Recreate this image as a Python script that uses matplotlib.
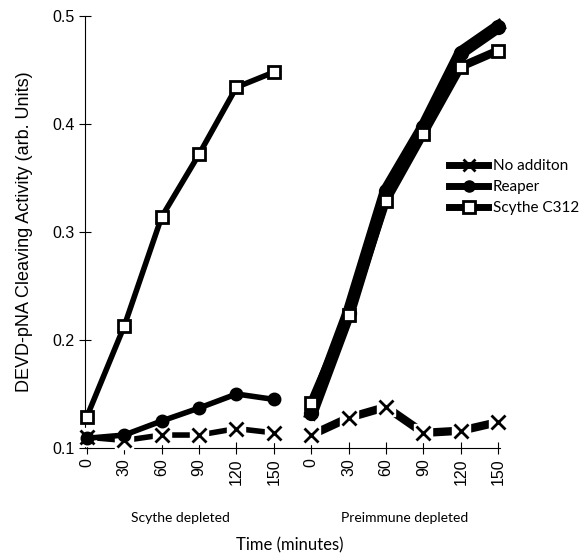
import matplotlib
matplotlib.use("Agg")
import matplotlib.pyplot as plt
import matplotlib.lines as mlines

times = [0, 30, 60, 90, 120, 150]
groups = ["Scythe depleted", "Preimmune depleted"]

# values, left group then right group
no_add_scythe = [0.110, 0.107, 0.112, 0.112, 0.118, 0.114]
no_add_preimm = [0.112, 0.128, 0.138, 0.114, 0.116, 0.124]
reaper_scythe = [0.109, 0.112, 0.125, 0.137, 0.150, 0.145]
reaper_preimm = [0.132, 0.225, 0.338, 0.397, 0.466, 0.490]
c312_scythe = [0.129, 0.213, 0.314, 0.372, 0.434, 0.448]
c312_preimm = [0.142, 0.223, 0.329, 0.391, 0.453, 0.468]

plt.rcParams['font.family'] = ['Liberation Sans', 'DejaVu Sans']

fig = plt.figure(figsize=(5.88, 5.57), dpi=100)
ax = fig.add_axes([0.1446, 0.1957, 0.7058, 0.7756])

xl = list(range(0, 6))
xr = list(range(6, 12))


def no_add(x, y, lw):
    ax.plot(x, y, color='black', lw=lw, solid_capstyle='butt', zorder=2, clip_on=False)
    ax.plot(x, y, ls='none', marker='s', ms=13, mfc='white', mec='white', zorder=3,
            clip_on=False)
    ax.plot(x, y, ls='none', marker='x', ms=10, mew=2, color='black', zorder=4,
            clip_on=False)


no_add(xl, no_add_scythe, 4)
no_add(xr, no_add_preimm, 6)

ax.plot(xl, reaper_scythe, color='black', lw=4, marker='o', ms=9, zorder=5, clip_on=False)
ax.plot(xr, reaper_preimm, color='black', lw=9, marker='o', ms=10, zorder=5, clip_on=False)

ax.plot(xl, c312_scythe, color='black', lw=4, marker='s', ms=8, mfc='white',
        mec='black', mew=2, zorder=6, clip_on=False)
ax.plot(xr, c312_preimm, color='black', lw=6, marker='s', ms=8, mfc='white',
        mec='black', mew=2, zorder=6, clip_on=False)

ax.set_xlim(-0.05, 11.05)
ax.set_ylim(0.1, 0.5)
ax.set_yticks([0.1, 0.2, 0.3, 0.4, 0.5])
ax.set_yticklabels(["0.1", "0.2", "0.3", "0.4", "0.5"], fontsize=11.5)
ax.set_xticks(xl + xr)
ax.set_xticklabels([str(t) for t in times] * 2, rotation=90, fontsize=11.5)
ax.tick_params(direction='inout', length=8, width=0.8)
ax.spines['top'].set_visible(False)
ax.spines['right'].set_visible(False)
ax.set_ylabel("DEVD-pNA Cleaving Activity (arb. Units)", fontsize=13, labelpad=14)

for x, g in zip([2.5, 8.5], groups):
    ax.text(x, -0.163, g, transform=ax.get_xaxis_transform(), ha='center',
            va='center', fontsize=10, family='Lato')
fig.text(0.493, 0.02, "Time (minutes)", ha='center', va='center', fontsize=12,
         family='Lato')

# legend drawn as in the original: thick line samples with markers
h1 = mlines.Line2D([], [], color='black', lw=5, marker='x', ms=9, mew=2)
h2 = mlines.Line2D([], [], color='black', lw=5, marker='o', ms=8)
h3 = mlines.Line2D([], [], color='black', lw=5, marker='s', ms=8, mfc='white', mew=2)
fig.legend([h1, h2, h3], ["No additon", "Reaper", "Scythe C312"],
           loc='upper left', bbox_to_anchor=(0.745, 0.733), frameon=False,
           handlelength=2.6, labelspacing=0.45, handletextpad=0.3, borderpad=0.2,
           prop={'family': 'Lato', 'size': 11})

fig.savefig("out.png", dpi=100)
